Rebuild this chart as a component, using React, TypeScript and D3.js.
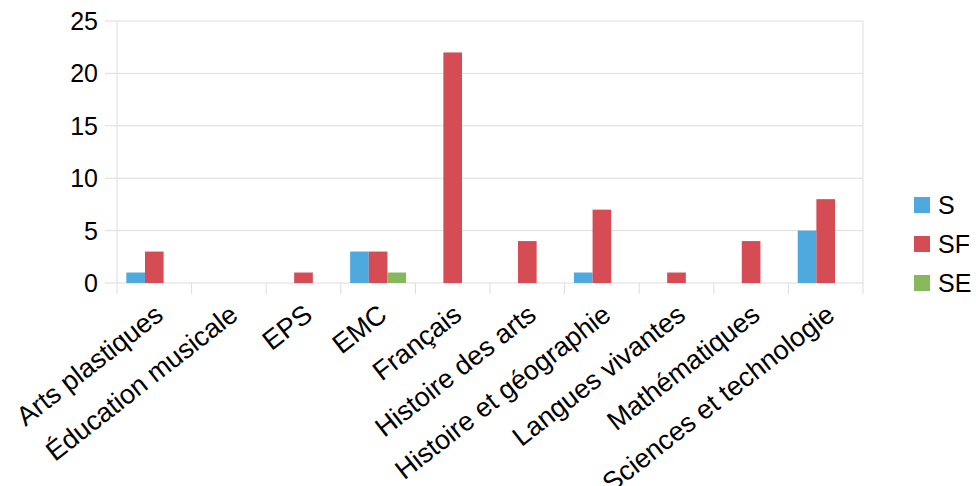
import React from "react";
import * as d3 from "d3";

const categories = [
  "Arts plastiques",
  "Éducation musicale",
  "EPS",
  "EMC",
  "Français",
  "Histoire des arts",
  "Histoire et géographie",
  "Langues vivantes",
  "Mathématiques",
  "Sciences et technologie",
];
const seriesNames = ["S", "SF", "SE"];
const valuesS = [1, 0, 0, 3, 0, 0, 1, 0, 0, 5];
const valuesSF = [3, 0, 1, 3, 22, 4, 7, 1, 4, 8];
const valuesSE = [0, 0, 0, 1, 0, 0, 0, 0, 0, 0];
const yTicks = [0, 5, 10, 15, 20, 25];
const colors = ["#4ea9de", "#d54c55", "#87b95c"];

const W = 976;
const H = 486;
const left = 117;
const right = 863;
const top = 21;
const bottom = 283;
const FONT = "'Liberation Sans', Arial, sans-serif";

export default function App() {
  const series = [valuesS, valuesSF, valuesSE];
  const x = d3.scaleBand<string>().domain(categories).range([left, right]).paddingInner(0).paddingOuter(0);
  const inner = d3.scaleBand<string>().domain(seriesNames).range([0, x.bandwidth() * 0.75]);
  const y = d3.scaleLinear().domain([0, 25]).range([bottom, top]);
  const groupOffset = x.bandwidth() * 0.125;

  return (
    <svg width={W} height={H} style={{ position: "absolute", left: 0, top: 0, background: "#fff" }} fontFamily={FONT}>
      <rect width={W} height={H} fill="#fff" />
      {yTicks.map((t) => (
        <g key={t}>
          <line x1={left - 12} x2={right} y1={y(t)} y2={y(t)} stroke="#dddddd" strokeWidth={1} />
          <text x={98} y={y(t)} dy="0.36em" textAnchor="end" fontSize={25} fill="#000">
            {t}
          </text>
        </g>
      ))}
      {d3.range(categories.length + 1).map((i) => {
        const xx = left + i * x.step();
        return <line key={i} x1={xx} x2={xx} y1={i === 0 || i === categories.length ? top : bottom} y2={bottom + 11} stroke="#dddddd" strokeWidth={1} />;
      })}
      {categories.map((c, ci) =>
        series.map((vals, si) => {
          const v = vals[ci];
          if (!v) return null;
          const bx = (x(c) as number) + groupOffset + (inner(seriesNames[si]) as number);
          return (
            <rect
              key={c + si}
              x={bx}
              y={y(v)}
              width={inner.bandwidth()}
              height={y(0) - y(v)}
              fill={colors[si]}
            />
          );
        })
      )}
      {categories.map((c) => {
        const cx = (x(c) as number) + x.bandwidth() / 2 - 1;
        return (
          <text
            key={c}
            transform={`translate(${cx},${303}) rotate(-38)`}
            textAnchor="end"
            dy="0.7em"
            fontSize={27}
            fill="#000"
          >
            {c}
          </text>
        );
      })}
      {seriesNames.map((s, i) => (
        <g key={s} transform={`translate(914,${197 + i * 39})`}>
          <rect width={16} height={16} fill={colors[i]} />
          <text x={24} y={8} dy="0.36em" fontSize={25} fill="#000">
            {s}
          </text>
        </g>
      ))}
    </svg>
  );
}
